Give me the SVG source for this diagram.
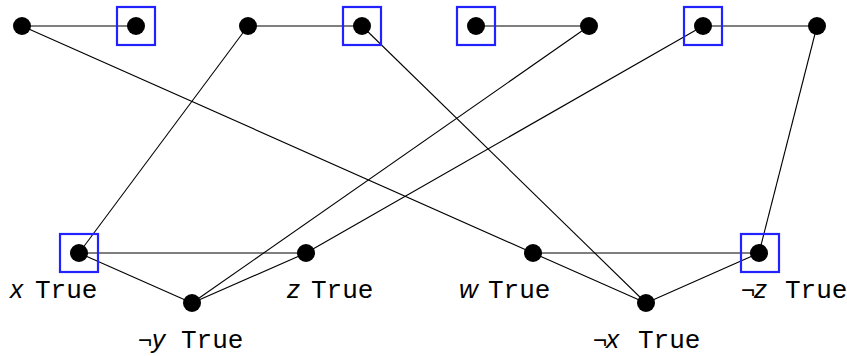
<svg xmlns="http://www.w3.org/2000/svg" width="847" height="356" viewBox="0 0 847 356">
<style>
.e{stroke:#000;stroke-width:1.1;fill:none}
.d{fill:#000}
.b{fill:none;stroke:#2222ff;stroke-width:2.2}
.t{font-family:"Liberation Mono",monospace;font-size:26px;fill:#000}
.v{font-family:"Liberation Sans",sans-serif;font-style:italic;font-size:26px}
.n{font-family:"Liberation Sans",sans-serif;font-style:normal;font-size:24px}
</style>
<rect width="847" height="356" fill="#fff"/>
<g id="connectors">
<line class="e" x1="22" y1="26" x2="136" y2="26"/>
<line class="e" x1="22" y1="26" x2="533" y2="253"/>
<line class="e" x1="248" y1="26" x2="362" y2="26"/>
<line class="e" x1="248" y1="26" x2="79" y2="253"/>
<line class="e" x1="362" y1="26" x2="646" y2="303"/>
<line class="e" x1="476" y1="26" x2="589" y2="26"/>
<line class="e" x1="589" y1="26" x2="192" y2="303"/>
<line class="e" x1="703" y1="26" x2="817" y2="26"/>
<line class="e" x1="703" y1="26" x2="306" y2="253"/>
<line class="e" x1="817" y1="26" x2="759" y2="253"/>
<line class="e" x1="79" y1="253" x2="306" y2="253"/>
<line class="e" x1="79" y1="253" x2="192" y2="303"/>
<line class="e" x1="192" y1="303" x2="306" y2="253"/>
<line class="e" x1="533" y1="253" x2="759" y2="253"/>
<line class="e" x1="533" y1="253" x2="646" y2="303"/>
<line class="e" x1="646" y1="303" x2="759" y2="253"/>
</g>
<g id="n1"><circle class="d" cx="22" cy="26" r="9"/></g>
<g id="n2"><rect class="b" x="117" y="7" width="38" height="38"/><circle class="d" cx="136" cy="26" r="9"/></g>
<g id="n3"><circle class="d" cx="248" cy="26" r="9"/></g>
<g id="n4"><rect class="b" x="343" y="7" width="38" height="38"/><circle class="d" cx="362" cy="26" r="9"/></g>
<g id="n5"><rect class="b" x="457" y="7" width="38" height="38"/><circle class="d" cx="476" cy="26" r="9"/></g>
<g id="n6"><circle class="d" cx="589" cy="26" r="9"/></g>
<g id="n7"><rect class="b" x="684" y="7" width="38" height="38"/><circle class="d" cx="703" cy="26" r="9"/></g>
<g id="n8"><circle class="d" cx="817" cy="26" r="9"/></g>
<g id="xT"><rect class="b" x="60" y="234" width="38" height="38"/><circle class="d" cx="79" cy="253" r="9"/>
<text class="t" y="298"><tspan class="v" x="10">x</tspan><tspan x="35">True</tspan></text></g>
<g id="zT"><circle class="d" cx="306" cy="253" r="9"/>
<text class="t" y="298"><tspan class="v" x="287">z</tspan><tspan x="311">True</tspan></text></g>
<g id="nyT"><circle class="d" cx="192" cy="303" r="9"/>
<text class="t" y="348"><tspan class="n" x="138">¬</tspan><tspan class="v" x="152">y</tspan><tspan x="181">True</tspan></text></g>
<g id="wT"><circle class="d" cx="533" cy="253" r="9"/>
<text class="t" y="298"><tspan class="v" x="459">w</tspan><tspan x="488">True</tspan></text></g>
<g id="nxT"><circle class="d" cx="646" cy="303" r="9"/>
<text class="t" y="348"><tspan class="n" x="593">¬</tspan><tspan class="v" x="606">x</tspan><tspan x="638">True</tspan></text></g>
<g id="nzT"><rect class="b" x="741" y="234" width="38" height="38"/><circle class="d" cx="759" cy="253" r="9"/>
<text class="t" y="298"><tspan class="n" x="741">¬</tspan><tspan class="v" x="754">z</tspan><tspan x="785">True</tspan></text></g>
</svg>
